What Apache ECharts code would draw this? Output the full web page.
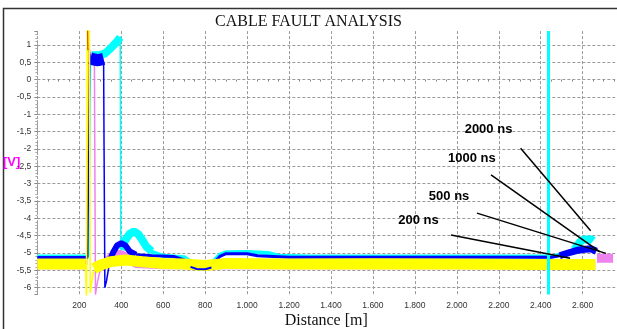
<!DOCTYPE html>
<html>
<head>
<meta charset="utf-8">
<script src="https://cdn.jsdelivr.net/npm/echarts@6/dist/echarts.min.js"></script>
<style>
  html, body { margin: 0; background: #fff; }
  #chart { width: 617px; height: 329px; }
</style>
</head>
<body>
<div id="chart"></div>
<script>
// distance in m, voltage in V; "-" breaks a trace
const GAP = "-"

const cyanBand = [[0, -5.1], [245, -5.1], [246, GAP], [540, -4.95], [600, -5.08], [700, -5.12], [750, -5.33],
  [800, -5.42], [830, -5.3], [870, -5.05], [900, -4.98], [1000, -4.97], [1100, -5.0], [1150, -5.08], [1300, -5.1],
  [1600, -5.1], [2000, -5.1], [2450, -5.1], [2520, -5.02], [2560, -4.9], [2661, GAP]]
const cyanBump = [[402, -4.9], [420, -4.62], [440, -4.45], [460, -4.38], [480, -4.45], [500, -4.62], [520, -4.82],
  [545, -4.95]]
const cyanEnd = [[2560, -4.9], [2585, -4.7], [2600, -4.62], [2640, -4.6], [2650, -4.65]]
const cyanTop = [[258, 0.7], [290, 0.7], [322, 0.75], [340, 0.85], [360, 0.97], [380, 1.1], [395, 1.22]]
const cyanSpike = [[245, -5.1], [254, 0.8], [258, 0.7], [259, GAP], [395, 1.25], [398, -4.9], [402, -4.9]]

const pinkBand = [[0, -5.34], [235, -5.34], [236, GAP], [310, -5.4], [340, -5.2], [370, -5.02], [400, -5.05], [430, -5.15],
  [470, -5.3], [600, -5.34], [2000, -5.34], [2660, -5.34], [2661, GAP], [2668, -5.15], [2745, -5.15]]
const pinkSpike = [[235, -5.34], [246, 0.9], [252, 0.78], [262, 0.65], [272, 0.55], [276, 0.5], [277, -6.2],
  [283, -5.95], [295, -5.6], [310, -5.4]]

const blueBand = [[0, -5.13], [240, -5.13], [241, GAP], [470, -5.05], [550, -5.08], [650, -5.1], [700, -5.2],
  [740, -5.4], [800, -5.42], [830, -5.35], [870, -5.1], [900, -5.02], [1000, -5.02], [1050, -5.08], [1200, -5.12],
  [1600, -5.12], [2000, -5.12], [2450, -5.12], [2490, -5.08], [2661, GAP]]
const blueBump = [[345, -5.25], [360, -5.0], [380, -4.78], [400, -4.72], [420, -4.78], [440, -4.95], [470, -5.05]]
const blueEnd = [[2490, -5.08], [2530, -5.0], [2570, -4.93], [2600, -4.9], [2640, -4.88], [2665, -4.95]]
const blueDip = [[730, -5.4], [760, -5.46], [800, -5.47], [830, -5.42]]
const blueTop = [[252, 0.62], [270, 0.58], [290, 0.56], [316, 0.6]]
const blueSpike = [[240, -5.13], [250, 0.75], [252, 0.62], [253, GAP], [316, 0.5], [318, -1.9], [320, -1.95],
  [322, -6.0], [330, -5.8], [345, -5.25]]

const yellowBand = [[0, -5.32], [230, -5.32], [231, GAP], [270, -5.45], [300, -5.35], [350, -5.25], [420, -5.2],
  [500, -5.25], [600, -5.3], [700, -5.32], [800, -5.36], [900, -5.3], [1200, -5.32], [1600, -5.31],
  [2000, -5.32], [2400, -5.33], [2661, -5.33]]
const yellowSpike = [[230, -5.32], [234, -6.25], [238, 1.5], [248, 1.5], [252, -6.15], [258, -5.9], [265, -5.6],
  [280, -5.42]]
const redSpike = [[240, 1.42], [241, 0.85]]

const faultMarker = 2437

const noteNames = ["2000 ns", "1000 ns", "500 ns", "200 ns"]
const noteLabelAt = [[2151, -1.45], [2072, -2.26], [1963, -3.36], [1817, -4.05]]
const noteFrom = [[2304, -1.98], [2163, -2.75], [2096, -3.85], [1972, -4.48]]
const noteTo = [[2638, -4.36], [2682, -4.97], [2711, -5.01], [2540, -5.15]]

const SANS = "Liberation Sans, Arial, sans-serif"
const SERIF = "Liberation Serif, Times New Roman, serif"
const GRID_LINE = { color: "#9a9a9a", width: 1, type: [3, 2] }

const chart = echarts.init(document.getElementById("chart"), null, { renderer: "canvas" })

function trace(name, data, color, width) {
  return {
    name,
    type: "line",
    data,
    symbol: "none",
    connectNulls: false,
    silent: true,
    lineStyle: { color, width },
    itemStyle: { color }
  }
}

function xLabel(v) {
  if (v < 1000) return String(v)
  return `${Math.floor(v / 1000)}.${String(v % 1000).padStart(3, "0")}`
}

chart.setOption({
  animation: false,
  title: {
    text: "CABLE FAULT ANALYSIS",
    left: "center",
    top: 9,
    textStyle: { fontFamily: SERIF, fontSize: 16, fontWeight: "normal", color: "#111" }
  },
  grid: { left: 37.35, right: 1.8, top: 31.1, bottom: 34.4, outerBoundsMode: "none", containLabel: false },
  xAxis: {
    type: "value",
    min: 0,
    max: 2755,
    interval: 200,
    name: "Distance [m]",
    nameLocation: "middle",
    nameGap: 18,
    nameMoveOverlap: false,
    nameTextStyle: { fontFamily: SERIF, fontSize: 16, color: "#111" },
    axisLine: { show: false },
    axisTick: { show: false },
    minorTick: { show: true, splitNumber: 4, length: 2, lineStyle: { color: "#888" } },
    axisLabel: { fontFamily: SANS, fontSize: 8.5, color: "#333", margin: 7, showMinLabel: false, showMaxLabel: false, formatter: xLabel },
    splitLine: { show: true, lineStyle: GRID_LINE, showMaxLine: false }
  },
  yAxis: {
    type: "value",
    min: -6.2,
    max: 1.4,
    splitNumber: 15,
    name: "[V]",
    nameLocation: "middle",
    nameRotate: 0,
    nameGap: 17,
    nameMoveOverlap: false,
    nameTextStyle: { fontFamily: SANS, fontSize: 13, fontWeight: "bold", color: "#ff00ff" },
    axisLine: { show: true, lineStyle: { color: "#9a9a9a", type: [2, 2] } },
    axisTick: { show: true, length: 3, lineStyle: { color: "#888" } },
    minorTick: { show: true, splitNumber: 5, length: 2, lineStyle: { color: "#aaa" } },
    axisLabel: {
      fontFamily: SANS, fontSize: 8.5, color: "#333", margin: 6, showMinLabel: false, showMaxLabel: false,
      formatter: (v) => String(Number(v.toFixed(1))).replace(".", ",")
    },
    splitLine: { show: true, lineStyle: GRID_LINE, showMinLine: false, showMaxLine: false }
  },
  graphic: [{
    type: "polyline",
    silent: true,
    shape: { points: [[3.5, 400], [3.5, 8.5], [800, 8.5]] },
    style: { fill: null, stroke: "#333", lineWidth: 1.5 }
  }],
  series: [
    trace("cyanBand", cyanBand, "#00ffff", 4),
    trace("cyanBump", cyanBump, "#00ffff", 8),
    trace("cyanEnd", cyanEnd, "#00ffff", 8),
    trace("cyanTop", cyanTop, "#00ffff", 8),
    trace("cyanSpike", cyanSpike, "#00ffff", 1.5),
    trace("pinkBand", pinkBand, "#ee82ee", 9),
    trace("pinkSpike", pinkSpike, "#ee82ee", 1.5),
    trace("blueBand", blueBand, "#0000ff", 3),
    trace("blueBump", blueBump, "#0000ff", 6),
    trace("blueEnd", blueEnd, "#0000ff", 7),
    trace("blueTop", blueTop, "#0000ff", 12),
    trace("blueSpike", blueSpike, "#0000ff", 1.5),
    trace("yellowBand", yellowBand, "#ffff00", 11),
    trace("blueDip", blueDip, "#0000ff", 2),
    trace("yellowSpike", yellowSpike, "#ffff00", 1.6),
    trace("redSpike", redSpike, "#d84000", 1.2),
    {
      name: "notes",
      type: "line",
      data: [],
      silent: true,
      markLine: {
        silent: true,
        symbol: ["none", "none"],
        label: { show: false },
        lineStyle: { color: "#000", width: 1.5, type: "solid" },
        data: [
          { xAxis: faultMarker, lineStyle: { color: "#00ffff", width: 3, type: "solid" } },
          ...noteFrom.map((p, i) => [{ coord: p }, { coord: noteTo[i] }])
        ]
      },
      markPoint: {
        silent: true,
        symbol: "circle",
        symbolSize: 0,
        label: { show: true, formatter: "{b}", fontFamily: SANS, fontSize: 13, fontWeight: "bold", color: "#000" },
        data: noteNames.map((name, i) => ({ name, coord: noteLabelAt[i] }))
      }
    }
  ]
})
</script>
</body>
</html>
